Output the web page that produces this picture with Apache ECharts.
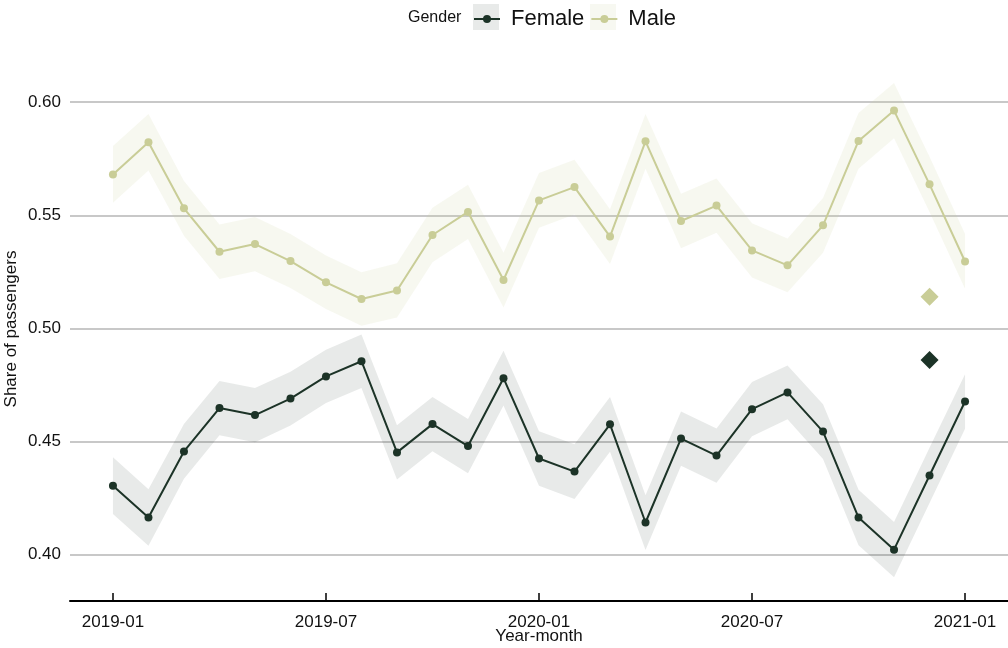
<!DOCTYPE html>
<html>
<head>
<meta charset="utf-8">
<title>Share of passengers by gender</title>
<script src="https://cdn.jsdelivr.net/npm/echarts@6/dist/echarts.min.js"></script>
<style>
  html, body { margin: 0; padding: 0; background: #ffffff; }
  #chart { width: 1008px; height: 648px; }
</style>
</head>
<body>
<div id="chart"></div>
<script>
// Monthly share of passengers by gender, with 95% confidence bands
const months = [
  '2019-01', '2019-02', '2019-03', '2019-04', '2019-05', '2019-06', '2019-07',
  '2019-08', '2019-09', '2019-10', '2019-11', '2019-12', '2020-01', '2020-02',
  '2020-03', '2020-04', '2020-05', '2020-06', '2020-07', '2020-08', '2020-09',
  '2020-10', '2020-11', '2020-12', '2021-01'
];
const femaleShare = [
  0.4305, 0.4164, 0.4456, 0.4648, 0.4617, 0.4690, 0.4788,
  0.4855, 0.4452, 0.4577, 0.4480, 0.4780, 0.4425, 0.4367,
  0.4576, 0.4142, 0.4513, 0.4438, 0.4643, 0.4717, 0.4544,
  0.4164, 0.4022, 0.4350, 0.4677
];
const maleShare = [
  0.5681, 0.5823, 0.5531, 0.5339, 0.5373, 0.5298, 0.5204,
  0.5130, 0.5168, 0.5413, 0.5515, 0.5214, 0.5566, 0.5625,
  0.5406, 0.5827, 0.5475, 0.5543, 0.5345, 0.5279, 0.5456,
  0.5829, 0.5963, 0.5637, 0.5296
];
// Half-width of the 95% confidence interval for each month
const ciHalfWidth = [
  0.0125, 0.0125, 0.0121, 0.0120, 0.0120, 0.0119, 0.0118,
  0.0118, 0.0120, 0.0120, 0.0120, 0.0121, 0.0121, 0.0121,
  0.0121, 0.0121, 0.0120, 0.0120, 0.0120, 0.0119, 0.0121,
  0.0123, 0.0122, 0.0122, 0.0121
];
// Reference shares marked with diamonds
const referenceMonth = '2020-12';
const referenceFemale = 0.486;
const referenceMale = 0.514;
const yTicks = [0.40, 0.45, 0.50, 0.55, 0.60];
const xTickMonths = ['2019-01', '2019-07', '2020-01', '2020-07', '2021-01'];

const femaleColor = '#1c3327';
const maleColor = '#c9cd97';
const femaleBand = 'rgba(28,51,39,0.10)';
const maleBand = 'rgba(201,205,151,0.15)';

const idx = m => months.indexOf(m);
const pts = arr => arr.map((v, i) => [i, v]);

// Confidence band drawn as one polygon: upper edge left to right, lower edge back
function bandSeries(values, color) {
  const rows = values.map((v, i) => [i, v - ciHalfWidth[i], v + ciHalfWidth[i]]);
  return {
    type: 'custom',
    silent: true,
    z: 1,
    encode: { x: 0, y: [1, 2] },
    data: rows,
    renderItem: function (params, api) {
      if (params.dataIndex !== 0) return null;
      const upper = rows.map(r => api.coord([r[0], r[2]]));
      const lowerEdge = rows.slice().reverse().map(r => api.coord([r[0], r[1]]));
      return {
        type: 'polygon',
        shape: { points: upper.concat(lowerEdge) },
        style: { fill: color }
      };
    }
  };
}

const chart = echarts.init(document.getElementById('chart'), null, { renderer: 'canvas' });
const font = 'Liberation Sans, Arial, Helvetica, sans-serif';

chart.setOption({
  animation: false,
  backgroundColor: '#ffffff',
  textStyle: { fontFamily: font },
  grid: { left: 70, right: 0, top: 57, bottom: 47, containLabel: false, outerBoundsMode: 'none' },
  legend: {
    data: ['Female', 'Male'],
    left: 473, top: 8, padding: 0,
    itemWidth: 26, itemHeight: 10, itemGap: 6,
    textStyle: { fontSize: 22, color: '#111111', fontFamily: font, padding: [0, 0, 0, 6] },
    z: 10
  },
  graphic: [
    { type: 'rect', left: 473, top: 4, shape: { width: 26, height: 26 }, style: { fill: '#e8eae9' }, z: 0 },
    { type: 'rect', left: 590, top: 4, shape: { width: 26, height: 26 }, style: { fill: '#f7f8f1' }, z: 0 },
    { type: 'text', left: 408, top: 10, style: { text: 'Gender', fontSize: 16, fill: '#111111', fontFamily: font }, z: 10 }
  ],
  xAxis: {
    type: 'value',
    min: -1.21, max: 25.21,
    name: 'Year-month', nameLocation: 'middle', nameGap: 27, nameMoveOverlap: false,
    nameTextStyle: { fontSize: 17, color: '#111111', fontFamily: font },
    axisLine: { show: true, onZero: false, lineStyle: { color: '#000000', width: 2 } },
    axisTick: {
      show: true, inside: true, length: 8,
      customValues: xTickMonths.map(idx),
      lineStyle: { color: '#000000', width: 1.5 }
    },
    axisLabel: {
      customValues: xTickMonths.map(idx),
      formatter: v => months[Math.round(v)],
      fontSize: 17, color: '#111111', margin: 13, fontFamily: font
    },
    splitLine: { show: false }
  },
  yAxis: {
    type: 'value',
    min: 0.3795, max: 0.62,
    name: 'Share of passengers', nameLocation: 'middle', nameGap: 50, nameRotate: 90,
    nameMoveOverlap: false,
    nameTextStyle: { fontSize: 17, color: '#111111', fontFamily: font },
    axisLine: { show: false },
    axisTick: { show: false, customValues: yTicks },
    axisLabel: {
      customValues: yTicks,
      formatter: v => v.toFixed(2),
      fontSize: 17, color: '#111111', margin: 9, fontFamily: font
    },
    splitLine: { show: true, lineStyle: { color: '#c8c8c8', width: 2 } }
  },
  series: [
    bandSeries(femaleShare, femaleBand),
    bandSeries(maleShare, maleBand),
    {
      name: 'Female', type: 'line', data: pts(femaleShare),
      symbol: 'circle', symbolSize: 8,
      itemStyle: { color: femaleColor },
      lineStyle: { color: femaleColor, width: 2 }, z: 3
    },
    {
      name: 'Male', type: 'line', data: pts(maleShare),
      symbol: 'circle', symbolSize: 8,
      itemStyle: { color: maleColor },
      lineStyle: { color: maleColor, width: 2 }, z: 3
    },
    {
      type: 'scatter', symbol: 'diamond', symbolSize: 18,
      data: [
        { value: [idx(referenceMonth), referenceFemale], itemStyle: { color: femaleColor, opacity: 1 } },
        { value: [idx(referenceMonth), referenceMale], itemStyle: { color: maleColor, opacity: 1 } }
      ],
      z: 4
    }
  ]
});
</script>
</body>
</html>
